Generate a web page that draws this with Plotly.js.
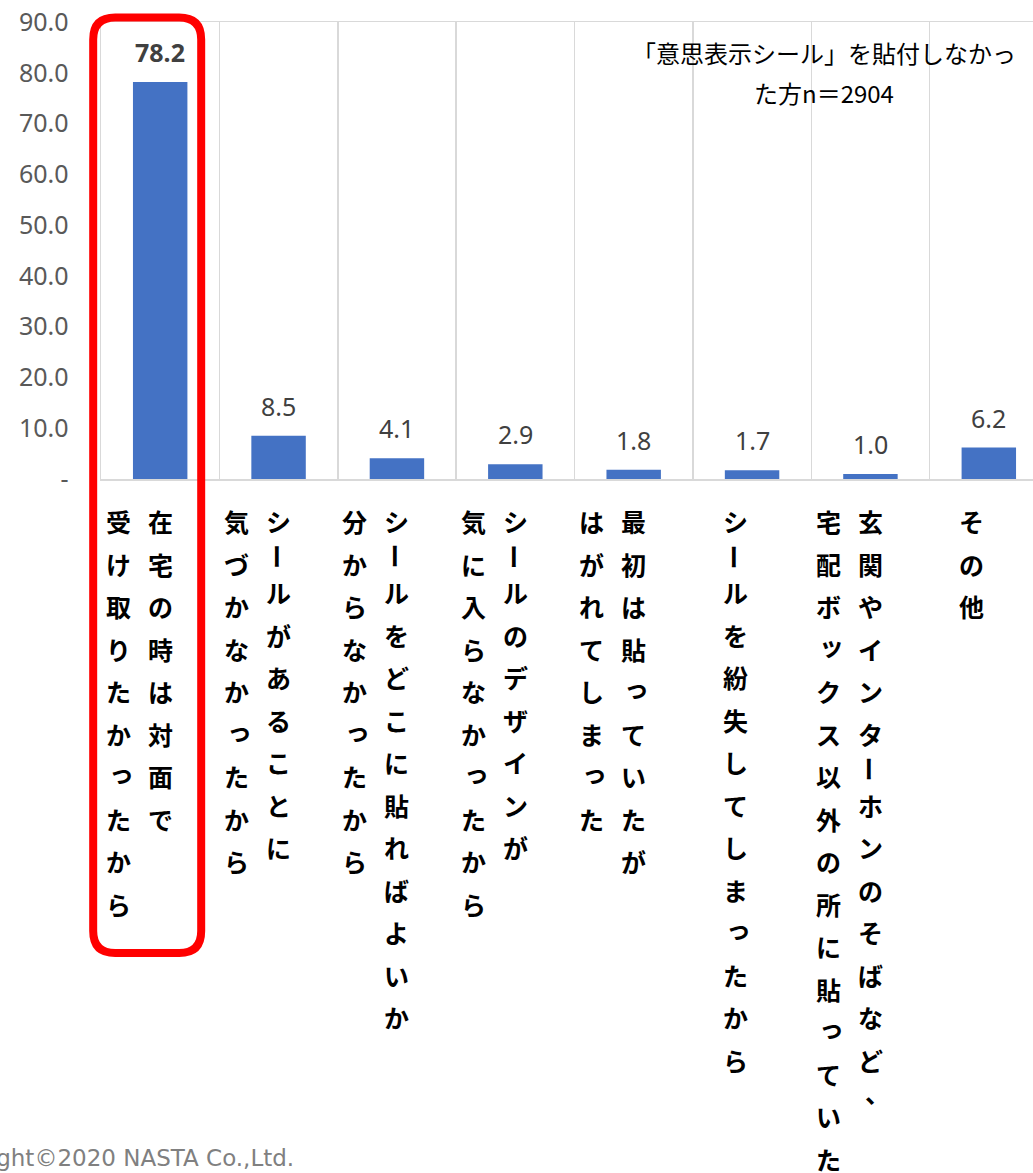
<!DOCTYPE html>
<html>
<head>
<meta charset="utf-8">
<script src="https://cdn.plot.ly/plotly-3.0.1.min.js"></script>
<style>
html, body { margin: 0; padding: 0; overflow: hidden; background: #fff; }
#chart { width: 1050px; height: 1173px; }
</style>
</head>
<body>
<div id="chart"></div>
<script>
// ---- data ----
const categories = [
  "在宅の時は対面で\n受け取りたかったから",
  "シールがあることに\n気づかなかったから",
  "シールをどこに貼ればよいか\n分からなかったから",
  "シールのデザインが\n気に入らなかったから",
  "最初は貼っていたが\nはがれてしまった",
  "シールを紛失してしまったから",
  "玄関やインターホンのそばなど、\n宅配ボックス以外の所に貼っていた",
  "その他"
];
const values = [78.2, 8.5, 4.1, 2.9, 1.8, 1.7, 1.0, 6.2];
const valueLabels = ["78.2", "8.5", "4.1", "2.9", "1.8", "1.7", "1.0", "6.2"];
const yTickVals = [0, 10, 20, 30, 40, 50, 60, 70, 80, 90];
const yTickText = ["-", "10.0", "20.0", "30.0", "40.0", "50.0", "60.0", "70.0", "80.0", "90.0"];
const noteLines = ["「意思表示シール」を貼付しなかっ", "た方n＝2904"];
const copyrightText = "Copyright©2020 NASTA Co.,Ltd.";
const highlightIndex = 0;

// ---- layout helpers ----
const W = 1050, H = 1173;
const M = { l: 101, r: 2, t: 22, b: 694 };
const plotW = W - M.l - M.r, plotH = H - M.t - M.b;
const xRange = [-0.5, categories.length - 0.5];
const numFont = "Noto Sans, Open Sans, sans-serif";
const jpFont = "Noto Sans CJK JP, sans-serif";

const xs = categories.map((_, i) => i);
const annotations = [];

// value labels
values.forEach((v, i) => {
  annotations.push({
    xref: 'x', yref: 'y', x: xs[i], y: v, text: valueLabels[i],
    showarrow: false, xanchor: 'center', yanchor: 'middle', yshift: 30,
    font: { family: numFont, size: 25, color: '#404040', weight: i === highlightIndex ? 'bold' : 'normal' }
  });
});

// vertical category labels, character by character
const pitch = 42.5, dashAdv = 28.5, firstOffset = 42;
const adv = ch => (ch === 'ー' ? dashAdv : pitch);
categories.forEach((lab, i) => {
  const cols = lab.split("\n");
  const colOff = cols.length === 2 ? [0, -42] : [-17];
  cols.forEach((col, ci) => {
    const chars = Array.from(col);
    let d = 0;
    chars.forEach((ch, k) => {
      if (k > 0) d += (adv(chars[k - 1]) + adv(ch)) / 2;
      let xsft = colOff[ci], ysft = -(firstOffset + d), ang = 0;
      if (ch === 'ー') ang = 90;
      if ('っッ'.includes(ch)) { xsft += 3; ysft += 4; }
      if (ch === '、') { xsft += 7; ysft += 10; }
      annotations.push({
        xref: 'x', yref: 'paper', x: xs[i], y: 0, xshift: xsft, yshift: ysft,
        text: ch, textangle: ang, showarrow: false, xanchor: 'center', yanchor: 'middle',
        font: { family: jpFont, size: 25, color: '#000000', weight: 'bold' }
      });
    });
  });
});

// note
const noteX = (824 - M.l) / plotW;
noteLines.forEach((t, k) => {
  annotations.push({
    xref: 'paper', yref: 'paper', x: noteX, y: (plotH + M.t - (53 + 39 * k)) / plotH,
    text: t, showarrow: false, xanchor: 'center', yanchor: 'middle',
    font: { family: jpFont, size: 24, color: '#000000' }
  });
});

// copyright
annotations.push({
  xref: 'paper', yref: 'paper', x: (296 - M.l) / plotW, y: (plotH + M.t - 1158) / plotH,
  text: copyrightText, showarrow: false, xanchor: 'right', yanchor: 'middle',
  font: { family: "DejaVu Sans, Verdana, sans-serif", size: 23, color: '#808080' }
});

// red rounded highlight box (pixels relative to category centre / zero line)
const bx0 = -67, bx1 = 41, by1 = 461.5, by0 = -474, r = 22;
const boxPath = [
  `M ${bx0 + r},${by1}`, `L ${bx1 - r},${by1}`, `Q ${bx1},${by1} ${bx1},${by1 - r}`,
  `L ${bx1},${by0 + r}`, `Q ${bx1},${by0} ${bx1 - r},${by0}`,
  `L ${bx0 + r},${by0}`, `Q ${bx0},${by0} ${bx0},${by0 + r}`,
  `L ${bx0},${by1 - r}`, `Q ${bx0},${by1} ${bx0 + r},${by1}`, 'Z'
].join(' ');

const shapes = [{
  type: 'path', xref: 'paper', yref: 'paper',
  xsizemode: 'pixel', ysizemode: 'pixel',
  xanchor: (highlightIndex - xRange[0]) / (xRange[1] - xRange[0]), yanchor: 0,
  path: boxPath, line: { color: '#FF0000', width: 8 }, fillcolor: 'rgba(0,0,0,0)', layer: 'above'
}];

const gridVals = [];
for (let g = 0; g <= categories.length; g++) gridVals.push(xRange[0] + g);

const trace = {
  type: 'bar', x: xs, y: values, width: 0.46,
  marker: { color: '#4472C4' }, hoverinfo: 'none'
};

const layout = {
  width: W, height: H,
  margin: M,
  paper_bgcolor: '#ffffff', plot_bgcolor: '#ffffff',
  showlegend: false,
  xaxis: {
    range: xRange, tickmode: 'array', tickvals: gridVals, showticklabels: false,
    showgrid: true, gridcolor: '#d9d9d9', gridwidth: 1.5, ticks: '',
    showline: true, mirror: true, linecolor: '#d9d9d9', linewidth: 1.5, zeroline: false
  },
  yaxis: {
    range: [0, 90], tickmode: 'array', tickvals: yTickVals, ticktext: yTickText,
    showgrid: false, zeroline: false, ticks: '', ticklabelstandoff: 26,
    showline: true, linecolor: '#d9d9d9', linewidth: 1.5,
    tickfont: { family: numFont, size: 25, color: '#595959' }
  },
  annotations: annotations,
  shapes: shapes
};

Plotly.newPlot('chart', [trace], layout, { displayModeBar: false, staticPlot: true });
</script>
</body>
</html>
